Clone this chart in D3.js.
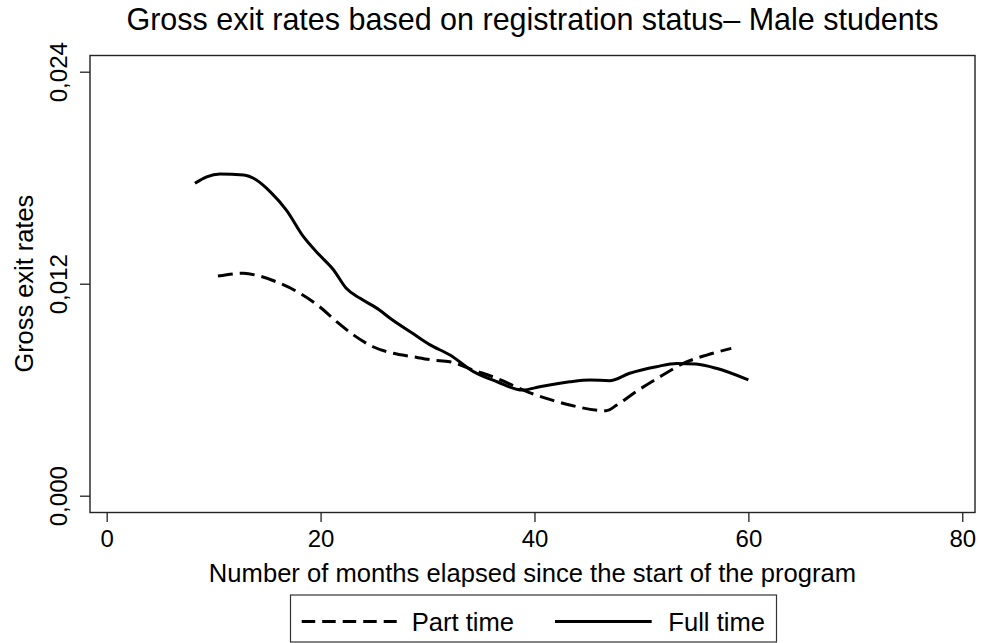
<!DOCTYPE html>
<html>
<head>
<meta charset="utf-8">
<script src="https://cdn.jsdelivr.net/npm/d3@7"></script>
<style>
  body { margin: 0; background: #fff; }
  text { font-family: "Liberation Sans", Arial, Helvetica, sans-serif; fill: #000; }
</style>
</head>
<body>
<div id="chart"></div>
<script>
// lowess-smoothed gross exit rates
var fullMonths = [8.25, 9.35, 10.6, 12.8, 14.0, 15.3, 16.8, 18.4, 19.9, 21.2, 22.4, 23.7, 25.5, 26.5, 28.6, 30.2, 32.1, 34.3, 36.5, 38.9, 40.5, 43.3, 45.2, 47.0, 48.9, 51.4, 53.3, 55.1, 57.0, 60.0];
var fullRates  = [0.01768, 0.01805, 0.01821, 0.01815, 0.01787, 0.01720, 0.01617, 0.01466, 0.01362, 0.01279, 0.01174, 0.01117, 0.01051, 0.01004, 0.00919, 0.00855, 0.00796, 0.00702, 0.00645, 0.00598, 0.00617, 0.00645, 0.00655, 0.00651, 0.00693, 0.00730, 0.00749, 0.00745, 0.00721, 0.00655];

var partMonths = [10.4, 12.8, 14.3, 16.2, 18.1, 19.9, 21.5, 23.1, 24.9, 26.8, 28.6, 30.5, 32.1, 34.3, 36.5, 39.3, 41.1, 43.3, 46.7, 47.7, 49.5, 52.0, 53.9, 56.1, 58.4];
var partRates  = [0.01243, 0.01259, 0.01243, 0.01202, 0.01145, 0.01070, 0.00985, 0.00909, 0.00843, 0.00806, 0.00787, 0.00768, 0.00758, 0.00711, 0.00664, 0.00589, 0.00551, 0.00513, 0.00481, 0.00513, 0.00589, 0.00683, 0.00749, 0.00796, 0.00834];

var xTicks = [0, 20, 40, 60, 80];
var yTicks = [0, 0.012, 0.024];
var seriesNames = ["Part time", "Full time"];

var W = 981, H = 643;
var margin = {top: 55.5, left: 90},
    width = 885,
    height = 457;

var svg = d3.select("#chart")
  .append("svg")
    .attr("width", W)
    .attr("height", H);

var g = svg.append("g")
    .attr("transform", "translate(" + margin.left + "," + margin.top + ")");

// scales (domains padded like stata does around the tick range)
var x = d3.scaleLinear()
  .domain([-1.56, 81.19])
  .range([0, width]);
var y = d3.scaleLinear()
  .domain([-0.000951, 0.024917])
  .range([height, 0]);

var commaFmt = d3.formatLocale({decimal: ",", thousands: ".", grouping: [3], currency: ["", ""]}).format(".3f");

// x axis
var xAxis = g.append("g")
  .attr("transform", "translate(0," + height + ")")
  .call(d3.axisBottom(x).tickValues(xTicks).tickSize(9.5).tickFormat(d3.format("d")));
xAxis.select(".domain").remove();
xAxis.selectAll("line").attr("stroke", "#222").attr("stroke-width", 1.3);
xAxis.selectAll("text")
  .attr("y", 34.2).attr("dy", 0)
  .style("font-size", "24px")
  .attr("fill", "#000");

// y axis, labels turned on their side
var yAxis = g.append("g")
  .call(d3.axisLeft(y).tickValues(yTicks).tickSize(10).tickFormat(commaFmt));
yAxis.select(".domain").remove();
yAxis.selectAll("line").attr("stroke", "#222").attr("stroke-width", 1.3);
yAxis.selectAll("text")
  .attr("transform", "rotate(-90)")
  .attr("x", 0).attr("y", -23.5).attr("dy", 0)
  .attr("text-anchor", "middle")
  .style("font-size", "24px")
  .attr("fill", "#000");

// plot region border
g.append("rect")
  .attr("width", width)
  .attr("height", height)
  .attr("fill", "none")
  .attr("stroke", "#222")
  .attr("stroke-width", 1.4);

var line = d3.line().curve(d3.curveMonotoneX);

var partPts = partMonths.map(function (m, i) { return [x(m), y(partRates[i])]; });
var fullPts = fullMonths.map(function (m, i) { return [x(m), y(fullRates[i])]; });

g.append("path")
  .attr("d", line(partPts))
  .attr("fill", "none")
  .attr("stroke", "#000")
  .attr("stroke-width", 3)
  .attr("stroke-dasharray", "15,7");

g.append("path")
  .attr("d", line(fullPts))
  .attr("fill", "none")
  .attr("stroke", "#000")
  .attr("stroke-width", 3);

// titles
svg.append("text")
  .attr("x", margin.left + width / 2)
  .attr("y", 30)
  .attr("text-anchor", "middle")
  .style("font-size", "30.5px")
  .text("Gross exit rates based on registration status\u2013 Male students");

svg.append("text")
  .attr("x", margin.left + width / 2)
  .attr("y", 581.7)
  .attr("text-anchor", "middle")
  .style("font-size", "25.6px")
  .text("Number of months elapsed since the start of the program");

svg.append("text")
  .attr("transform", "translate(33.3," + (margin.top + y(0.012)) + ") rotate(-90)")
  .attr("text-anchor", "middle")
  .style("font-size", "25.4px")
  .text("Gross exit rates");

// legend
var legend = svg.append("g");
legend.append("rect")
  .attr("x", 290.5).attr("y", 595)
  .attr("width", 486).attr("height", 47)
  .attr("fill", "#fff")
  .attr("stroke", "#333")
  .attr("stroke-width", 1.2);

var keys = [
  {name: seriesNames[0], x0: 301.7, x1: 396.7, tx: 411.7, dash: "13.5,7"},
  {name: seriesNames[1], x0: 555, x1: 651.7, tx: 668.3, dash: null}
];
keys.forEach(function (k) {
  legend.append("line")
    .attr("x1", k.x0).attr("x2", k.x1)
    .attr("y1", 621.5).attr("y2", 621.5)
    .attr("stroke", "#000")
    .attr("stroke-width", 3)
    .attr("stroke-dasharray", k.dash);
  legend.append("text")
    .attr("x", k.tx).attr("y", 630.6)
    .style("font-size", "25.6px")
    .text(k.name);
});
</script>
</body>
</html>
